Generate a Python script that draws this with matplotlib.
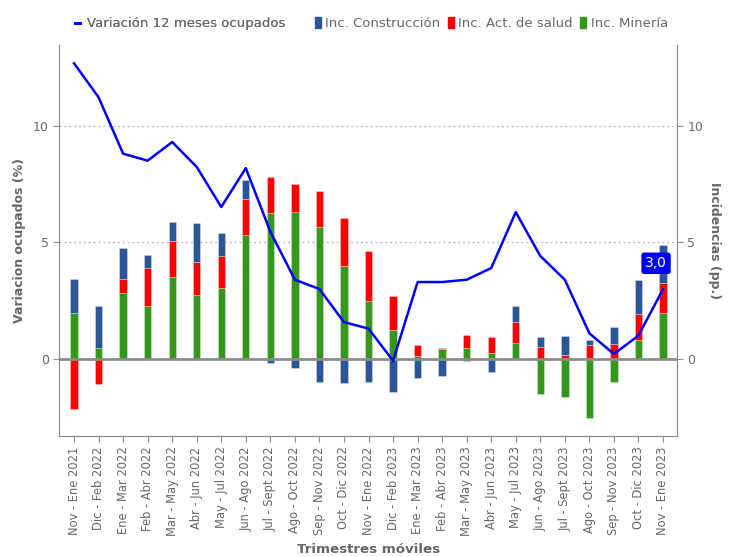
import matplotlib
matplotlib.use("Agg")
import matplotlib.pyplot as plt
import numpy as np
from matplotlib.patches import Patch
from matplotlib.lines import Line2D

categories = ["Nov - Ene 2021", "Dic - Feb 2022", "Ene - Mar 2022", "Feb - Abr 2022",
              "Mar - May 2022", "Abr - Jun 2022", "May - Jul 2022", "Jun - Ago 2022",
              "Jul - Sept 2022", "Ago - Oct 2022", "Sep - Nov 2022", "Oct - Dic 2022",
              "Nov - Ene 2022", "Dic - Feb 2023", "Ene - Mar 2023", "Feb - Abr 2023",
              "Mar - May 2023", "Abr - Jun 2023", "May - Jul 2023", "Jun - Ago 2023",
              "Jul - Sept 2023", "Ago - Oct 2023", "Sep - Nov 2023", "Oct - Dic 2023",
              "Nov - Ene 2023"]

variacion = [12.68, 11.22, 8.80, 8.50, 9.30, 8.23, 6.51, 8.18, 5.45, 3.39, 2.99, 1.57,
             1.29, -0.09, 3.29, 3.29, 3.39, 3.89, 6.29, 4.41, 3.39, 1.09, 0.20, 0.99, 2.98]

mineria = [1.97, 0.47, 2.80, 2.27, 3.51, 2.73, 3.03, 5.29, 6.25, 6.28, 5.65, 3.99,
           2.47, 1.24, 0.13, 0.41, 0.47, 0.24, 0.66, -1.50, -1.63, -2.56, -1.02, 0.80, 1.95]
salud = [-2.15, -1.07, 0.60, 1.63, 1.53, 1.40, 1.36, 1.56, 1.56, 1.22, 1.53, 2.03,
         2.15, 1.47, 0.47, 0.05, 0.53, 0.67, 0.92, 0.49, 0.16, 0.60, 0.63, 1.10, 1.29]
construccion = [1.43, 1.80, 1.33, 0.53, 0.84, 1.70, 1.02, 0.82, -0.20, -0.40, -0.99, -1.06,
                -1.00, -1.42, -0.82, -0.76, -0.10, -0.56, 0.70, 0.44, 0.81, 0.20, 0.74, 1.47, 1.66]

yticks = [0, 5, 10]

GRAY = "#666666"
SPINE = "#8c8c8c"
C_BLUE = "#2B5597"
C_RED = "#FF0000"
C_GREEN = "#34961A"
C_LINE = "#0000FF"

fig = plt.figure(figsize=(7.34, 5.57), dpi=100)
ax = fig.add_axes([0.0808, 0.2172, 0.9223 - 0.0808, 0.919 - 0.2172])
ax2 = ax.twinx()

x = np.arange(len(categories))
width = 0.3
pos = np.zeros(len(x))
neg = np.zeros(len(x))
for vals, col in [(mineria, C_GREEN), (salud, C_RED), (construccion, C_BLUE)]:
    v = np.array(vals)
    bottoms = np.where(v >= 0, pos, neg)
    ax.bar(x, v, width, bottom=bottoms, color=col, edgecolor=(1, 1, 1, 0.35),
           linewidth=0.6, zorder=2)
    pos = pos + np.where(v >= 0, v, 0)
    neg = neg + np.where(v < 0, v, 0)

ax.axhline(0, color=SPINE, linewidth=2, zorder=3)
for yv in [5, 10]:
    ax.axhline(yv, color="#bbbbbb", linewidth=1, linestyle=(0, (1.5, 2)), zorder=1)

ax.plot(x, variacion, color=C_LINE, linewidth=1.8, zorder=4)

ylim = (-3.32, 13.46)
xlim = (-0.6, len(categories) - 1 + 0.57)
for a in (ax, ax2):
    a.set_ylim(*ylim)
    a.set_yticks(yticks)
    a.set_yticklabels([str(t) for t in yticks])
    a.tick_params(axis="y", colors=SPINE, labelcolor=GRAY, labelsize=9, length=4)
    for s in a.spines.values():
        s.set_color(SPINE)
    a.spines["top"].set_visible(False)
ax.set_xlim(*xlim)
ax.set_xticks(x)
ax.set_xticklabels(categories, rotation=90, fontsize=8.3, color=GRAY)
ax.tick_params(axis="x", colors=SPINE, labelcolor=GRAY, length=4)

ax.set_ylabel("Variacion ocupados (%)", fontsize=9, fontweight="bold", color=GRAY)
ax.yaxis.set_label_coords(-0.054, 0.5)
ax2.set_ylabel("Incidencias (pp.)", fontsize=9, fontweight="bold", color=GRAY,
               rotation=-90, va="center")
ax2.yaxis.set_label_coords(1.0615, 0.5)
ax.set_xlabel("Trimestres móviles", fontsize=9.6, fontweight="bold", color=GRAY, va="center")
ax.xaxis.set_label_coords(0.5, -0.29)

last = len(categories) - 1
ax.annotate("3,0", xy=(x[last], variacion[last]), xytext=(-5, 18.7), textcoords="offset points",
            ha="center", va="center", color="white", fontsize=10,
            bbox=dict(boxstyle="round,pad=0.22,rounding_size=0.15", fc=C_LINE, ec=C_LINE),
            zorder=6)

h1 = [Line2D([0], [0], color=C_LINE, linewidth=2)]
leg1 = fig.legend(h1, ["Variación 12 meses ocupados"], loc="center left",
                  bbox_to_anchor=(0.102, 0.957), frameon=False, fontsize=9.5,
                  handlelength=0.4, handletextpad=0.5, borderpad=0, borderaxespad=0)
for t in leg1.get_texts():
    t.set_color(GRAY)
h2 = [Patch(color=C_BLUE), Patch(color=C_RED), Patch(color=C_GREEN)]
leg2 = fig.legend(h2, ["Inc. Construcción", "Inc. Act. de salud", "Inc. Minería"],
                  loc="center left", bbox_to_anchor=(0.429, 0.957), frameon=False,
                  fontsize=9.5, ncol=3, handlelength=0.45, handleheight=0.9,
                  handletextpad=0.35, columnspacing=0.55, borderpad=0, borderaxespad=0)
for t in leg2.get_texts():
    t.set_color(GRAY)
fig.add_artist(leg1)

fig.savefig("out.png", dpi=100)
